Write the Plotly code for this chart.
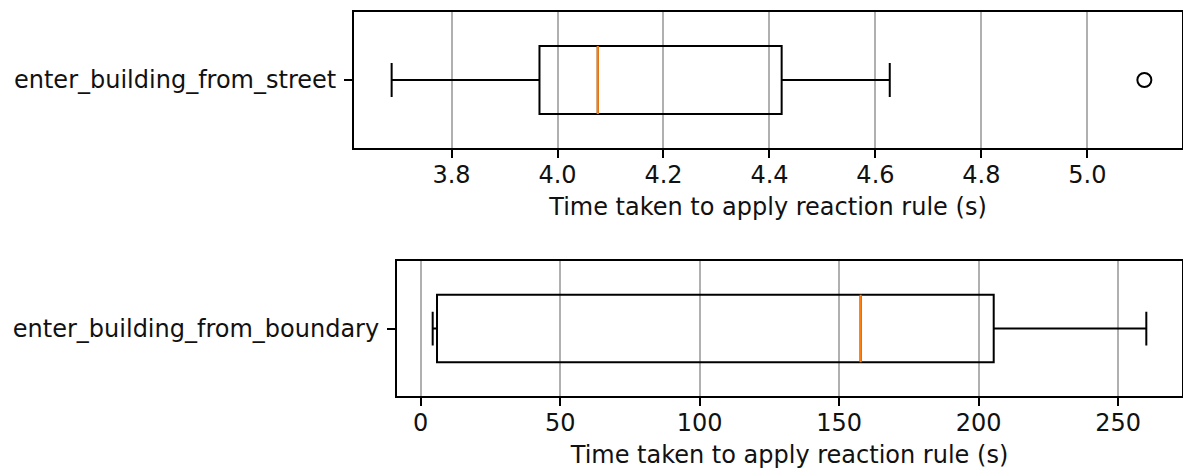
import plotly.graph_objects as go

# ---- data
rules = ["enter_building_from_street", "enter_building_from_boundary"]
q1 = [3.966, 5.85]
median = [4.076, 157.7]
q3 = [4.423, 205.4]
low_whisker = [3.687, 4.3]
high_whisker = [4.627, 260.1]
outliers = [[5.1075], []]
x_dtick = [0.2, 50]
x_format = [".1f", "d"]

W, H = 1183, 470
FONT = "DejaVu Sans"
FS = 24
BOX_W = 0.5
POS = 1

# axes frames in pixels (left, top, right, bottom)
frames = [(354, 12, 1182, 148), (397, 261, 1182, 396)]

fig = go.Figure()

for i, name in enumerate(rules):
    xa = "x" if i == 0 else f"x{i + 1}"
    ya = "y" if i == 0 else f"y{i + 1}"

    fig.add_trace(go.Box(
        y=[POS], orientation="h",
        q1=[q1[i]], median=[median[i]], q3=[q3[i]],
        lowerfence=[low_whisker[i]], upperfence=[high_whisker[i]],
        width=BOX_W, whiskerwidth=0.5,
        line=dict(color="black", width=2),
        fillcolor="rgba(0,0,0,0)",
        boxpoints=False, hoverinfo="skip",
        xaxis=xa, yaxis=ya, showlegend=False,
    ))
    # median in orange
    fig.add_trace(go.Scatter(
        x=[median[i], median[i]], y=[POS - BOX_W / 2, POS + BOX_W / 2],
        mode="lines", line=dict(color="#ff7f0e", width=2.2),
        xaxis=xa, yaxis=ya, showlegend=False, hoverinfo="skip",
    ))
    if outliers[i]:
        fig.add_trace(go.Scatter(
            x=outliers[i], y=[POS] * len(outliers[i]),
            mode="markers",
            marker=dict(symbol="circle-open", size=14, color="black",
                        line=dict(width=2, color="black")),
            xaxis=xa, yaxis=ya, showlegend=False, hoverinfo="skip",
        ))

    lo = min([low_whisker[i]] + outliers[i])
    hi = max([high_whisker[i]] + outliers[i])
    pad = (hi - lo) * 0.05

    l, t, r, b = frames[i]
    axis_common = dict(
        showline=True, linecolor="black", linewidth=2, mirror=True,
        ticks="outside", ticklen=8, tickwidth=2, tickcolor="black",
        tickfont=dict(family=FONT, size=FS, color="#111"),
        zeroline=False, automargin=False,
    )
    fig.update_layout({
        ("xaxis" if i == 0 else f"xaxis{i + 1}"): dict(
            domain=[l / W, r / W], anchor=ya,
            range=[lo - pad, hi + pad],
            dtick=x_dtick[i], tick0=0, tickformat=x_format[i],
            ticklabelstandoff=-4,
            showgrid=True, gridcolor="#b0b0b0", gridwidth=1.5,
            title=dict(text="Time taken to apply reaction rule (s)",
                       font=dict(family=FONT, size=FS, color="#111"),
                       standoff=10),
            **axis_common,
        ),
        ("yaxis" if i == 0 else f"yaxis{i + 1}"): dict(
            domain=[1 - b / H, 1 - t / H], anchor=xa,
            range=[POS - 0.5, POS + 0.5],
            tickvals=[POS], ticktext=[name],
            ticklabelstandoff=3,
            showgrid=False,
            **axis_common,
        ),
    })

fig.update_layout(
    width=W, height=H,
    margin=dict(l=0, r=0, t=0, b=0),
    paper_bgcolor="white", plot_bgcolor="white",
    font=dict(family=FONT, size=FS, color="#111"),
    showlegend=False,
)

# drop the default page margin so the figure sits at the window's corner
fig.write_html(
    "out.html",
    config={"displayModeBar": False},
    post_script="document.body.style.margin='0';document.body.style.overflow='hidden';",
)
